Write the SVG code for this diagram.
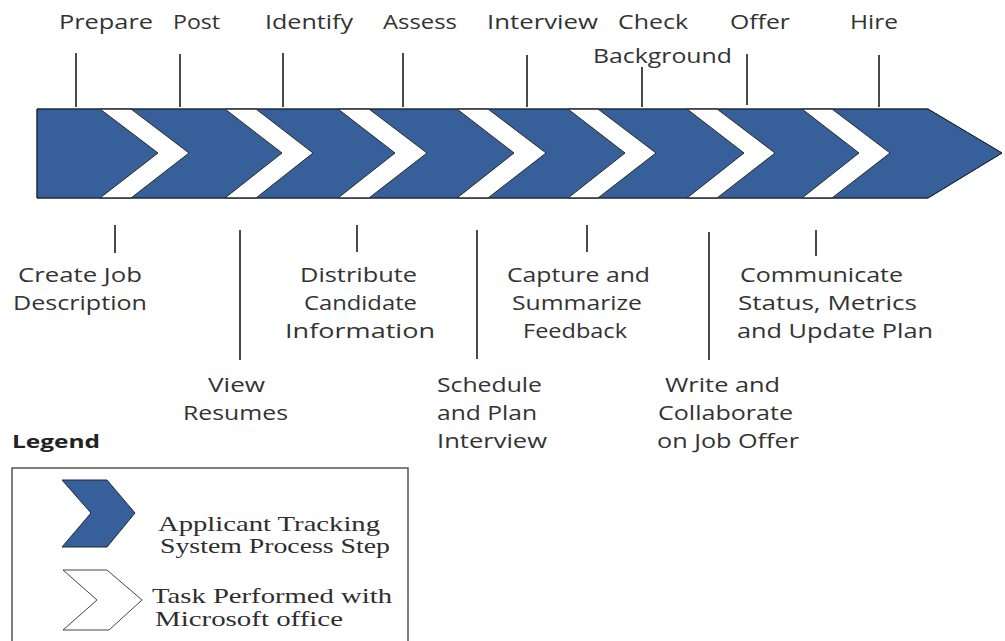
<svg xmlns="http://www.w3.org/2000/svg" width="1005" height="641" viewBox="0 0 1005 641">
<style>
.lbl{font-family:"Open Sans","Liberation Sans",sans-serif;font-size:20px;fill:#333333}
.leg{font-family:"Liberation Serif","DejaVu Serif",serif;font-size:21px;fill:#2e2e2e}
.legt{font-family:"Open Sans","Liberation Sans",sans-serif;font-size:18px;font-weight:bold;fill:#222}
.tick{stroke:#4a4a4a;stroke-width:2;fill:none}
.blue{fill:#37609a;stroke:#1e2a3a;stroke-width:1}
.task{fill:#ffffff;stroke:#2a2a2a;stroke-width:1}
</style>
<rect width="1005" height="641" fill="#ffffff"/>
<g id="process-bar">
<polygon class="blue" points="37,109 928,109 1002,153 928,198 37,198"/>
<g id="tasks">
<polygon class="task" points="100,109 131,109 189,153 131,198 100,198 158,153"/>
<polygon class="task" points="225,109 256,109 313,153 256,198 225,198 282,153"/>
<polygon class="task" points="338,109 369,109 427,153 369,198 338,198 395,153"/>
<polygon class="task" points="457,109 488,109 546,153 488,198 457,198 514,153"/>
<polygon class="task" points="568,109 598,109 656,153 598,198 568,198 625,153"/>
<polygon class="task" points="687,109 717,109 775,153 717,198 687,198 744,153"/>
<polygon class="task" points="802,109 832,109 890,153 832,198 802,198 859,153"/>
</g>
<polygon points="37,109 928,109 1002,153 928,198 37,198" fill="none" stroke="#1e2a3a" stroke-width="1"/>
</g>
<g id="connectors">
<line class="tick" x1="76" y1="53" x2="76" y2="107"/>
<line class="tick" x1="180" y1="54" x2="180" y2="107"/>
<line class="tick" x1="283" y1="53" x2="283" y2="107"/>
<line class="tick" x1="403" y1="53" x2="403" y2="107"/>
<line class="tick" x1="527" y1="55" x2="527" y2="107"/>
<line class="tick" x1="642" y1="67" x2="642" y2="107"/>
<line class="tick" x1="747" y1="54" x2="747" y2="105"/>
<line class="tick" x1="879" y1="55" x2="879" y2="107"/>
<line class="tick" x1="115" y1="225" x2="115" y2="253"/>
<line class="tick" x1="240" y1="230" x2="240" y2="360"/>
<line class="tick" x1="357" y1="225" x2="357" y2="252"/>
<line class="tick" x1="477" y1="230" x2="477" y2="359"/>
<line class="tick" x1="587" y1="225" x2="587" y2="252"/>
<line class="tick" x1="709" y1="232" x2="709" y2="360"/>
<line class="tick" x1="816" y1="230" x2="816" y2="256"/>
</g>
<g id="top-labels">
<g id="step-prepare"><text class="lbl" x="59" y="29" textLength="94" lengthAdjust="spacingAndGlyphs">Prepare</text></g>
<g id="step-post"><text class="lbl" x="173" y="29" textLength="47" lengthAdjust="spacingAndGlyphs">Post</text></g>
<g id="step-identify"><text class="lbl" x="265" y="29" textLength="88" lengthAdjust="spacingAndGlyphs">Identify</text></g>
<g id="step-assess"><text class="lbl" x="383" y="29" textLength="74" lengthAdjust="spacingAndGlyphs">Assess</text></g>
<g id="step-interview"><text class="lbl" x="487" y="29" textLength="111" lengthAdjust="spacingAndGlyphs">Interview</text></g>
<g id="step-check"><text class="lbl" x="618" y="29" textLength="70" lengthAdjust="spacingAndGlyphs">Check</text><text class="lbl" x="593" y="63" textLength="139" lengthAdjust="spacingAndGlyphs">Background</text></g>
<g id="step-offer"><text class="lbl" x="730" y="29" textLength="60" lengthAdjust="spacingAndGlyphs">Offer</text></g>
<g id="step-hire"><text class="lbl" x="850" y="29" textLength="48" lengthAdjust="spacingAndGlyphs">Hire</text></g>
</g>
<g id="bottom-labels">
<g id="task-create"><text class="lbl" x="18" y="282" textLength="124" lengthAdjust="spacingAndGlyphs">Create Job</text><text class="lbl" x="13" y="310" textLength="134" lengthAdjust="spacingAndGlyphs">Description</text></g>
<g id="task-view"><text class="lbl" x="208" y="392" textLength="57" lengthAdjust="spacingAndGlyphs">View</text><text class="lbl" x="183" y="420" textLength="105" lengthAdjust="spacingAndGlyphs">Resumes</text></g>
<g id="task-distribute"><text class="lbl" x="300" y="282" textLength="117" lengthAdjust="spacingAndGlyphs">Distribute</text><text class="lbl" x="304" y="310" textLength="113" lengthAdjust="spacingAndGlyphs">Candidate</text><text class="lbl" x="285" y="338" textLength="150" lengthAdjust="spacingAndGlyphs">Information</text></g>
<g id="task-schedule"><text class="lbl" x="437" y="392" textLength="105" lengthAdjust="spacingAndGlyphs">Schedule</text><text class="lbl" x="437" y="420" textLength="100" lengthAdjust="spacingAndGlyphs">and Plan</text><text class="lbl" x="437" y="448" textLength="110" lengthAdjust="spacingAndGlyphs">Interview</text></g>
<g id="task-capture"><text class="lbl" x="507" y="282" textLength="143" lengthAdjust="spacingAndGlyphs">Capture and</text><text class="lbl" x="512" y="310" textLength="130" lengthAdjust="spacingAndGlyphs">Summarize</text><text class="lbl" x="523" y="338" textLength="104" lengthAdjust="spacingAndGlyphs">Feedback</text></g>
<g id="task-write"><text class="lbl" x="665" y="392" textLength="115" lengthAdjust="spacingAndGlyphs">Write and</text><text class="lbl" x="658" y="420" textLength="135" lengthAdjust="spacingAndGlyphs">Collaborate</text><text class="lbl" x="657" y="448" textLength="142" lengthAdjust="spacingAndGlyphs">on Job Offer</text></g>
<g id="task-communicate"><text class="lbl" x="740" y="282" textLength="163" lengthAdjust="spacingAndGlyphs">Communicate</text><text class="lbl" x="738" y="310" textLength="179" lengthAdjust="spacingAndGlyphs">Status, Metrics</text><text class="lbl" x="737" y="338" textLength="196" lengthAdjust="spacingAndGlyphs">and Update Plan</text></g>
</g>
<g id="legend">
<text class="legt" x="12" y="448" textLength="88" lengthAdjust="spacingAndGlyphs">Legend</text>
<rect x="12" y="468" width="396" height="180" fill="#ffffff" stroke="#555" stroke-width="1.5"/>
<g id="legend-ats">
<polygon class="blue" points="62,480 107,480 135,513 107,547 62,547 91,513"/>
<text class="leg" x="158" y="531" textLength="222" lengthAdjust="spacingAndGlyphs">Applicant Tracking</text>
<text class="leg" x="160" y="553" textLength="230" lengthAdjust="spacingAndGlyphs">System Process Step</text>
</g>
<g id="legend-task">
<polygon points="63,570 107,570 142,600 109,630 63,630 97,600" fill="#ffffff" stroke="#444" stroke-width="1"/>
<text class="leg" x="152" y="603" textLength="240" lengthAdjust="spacingAndGlyphs">Task Performed with</text>
<text class="leg" x="155" y="626" textLength="188" lengthAdjust="spacingAndGlyphs">Microsoft office</text>
</g>
</g>
</svg>
